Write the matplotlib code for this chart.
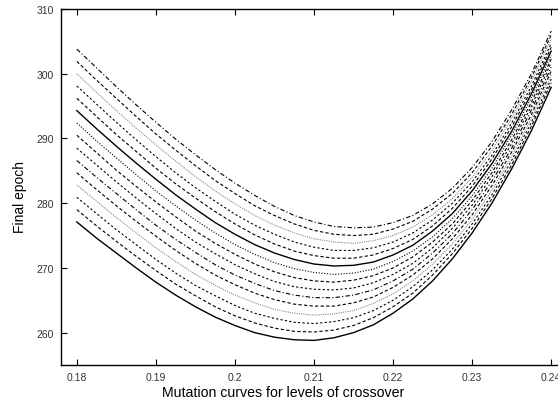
import matplotlib
matplotlib.use("Agg")
import matplotlib.pyplot as plt

plt.rcParams['font.family'] = ['Liberation Sans', 'DejaVu Sans']

mutation = [0.1800, 0.1825, 0.1850, 0.1875, 0.1900, 0.1925, 0.1950, 0.1975,
            0.2000, 0.2025, 0.2050, 0.2075, 0.2100, 0.2125, 0.2150, 0.2175,
            0.2200, 0.2225, 0.2250, 0.2275, 0.2300, 0.2325, 0.2350, 0.2375,
            0.2400]

# Final epoch per crossover level (bottom curve first)
c00 = [277.1, 274.6, 272.3, 270.0, 267.8, 265.8, 264.0, 262.4, 261.1, 260.0, 259.3, 258.9, 258.8,
       259.2, 260.0, 261.2, 263.0, 265.2, 268.0, 271.4, 275.4, 280.0, 285.3, 291.2, 297.9]
c01 = [279.0, 276.5, 274.1, 271.8, 269.6, 267.5, 265.7, 264.0, 262.6, 261.5, 260.7, 260.2, 260.1,
       260.4, 261.1, 262.3, 264.0, 266.1, 268.9, 272.2, 276.1, 280.7, 285.9, 291.9, 298.6]
c02 = [280.9, 278.4, 275.9, 273.6, 271.3, 269.2, 267.3, 265.7, 264.2, 263.0, 262.2, 261.6, 261.4,
       261.7, 262.3, 263.4, 265.0, 267.1, 269.7, 272.9, 276.8, 281.3, 286.6, 292.5, 299.2]
c03 = [282.8, 280.3, 277.8, 275.4, 273.1, 271.0, 269.0, 267.3, 265.8, 264.6, 263.6, 263.0, 262.7,
       262.9, 263.4, 264.5, 266.0, 268.0, 270.6, 273.7, 277.5, 282.0, 287.2, 293.1, 299.8]
c04 = [284.7, 282.1, 279.6, 277.2, 274.9, 272.7, 270.7, 268.9, 267.4, 266.1, 265.1, 264.4, 264.1,
       264.1, 264.6, 265.5, 267.0, 268.9, 271.4, 274.5, 278.2, 282.7, 287.9, 293.7, 300.4]
c05 = [286.6, 284.0, 281.5, 279.0, 276.6, 274.4, 272.4, 270.5, 268.9, 267.6, 266.5, 265.8, 265.4,
       265.4, 265.8, 266.6, 268.0, 269.8, 272.3, 275.3, 279.0, 283.4, 288.5, 294.4, 301.0]
c06 = [288.5, 285.9, 283.3, 280.8, 278.4, 276.1, 274.0, 272.2, 270.5, 269.1, 267.9, 267.1, 266.7,
       266.6, 266.9, 267.7, 269.0, 270.7, 273.1, 276.1, 279.7, 284.1, 289.2, 295.0, 301.7]
c07 = [290.5, 287.8, 285.1, 282.6, 280.2, 277.9, 275.7, 273.8, 272.1, 270.6, 269.4, 268.5, 268.0,
       267.8, 268.1, 268.8, 270.0, 271.7, 274.0, 276.8, 280.4, 284.7, 289.8, 295.6, 302.3]
c08 = [292.4, 289.6, 287.0, 284.4, 281.9, 279.6, 277.4, 275.4, 273.6, 272.1, 270.8, 269.9, 269.3,
       269.0, 269.2, 269.8, 271.0, 272.6, 274.8, 277.6, 281.1, 285.4, 290.5, 296.3, 302.9]
c09 = [294.3, 291.5, 288.8, 286.2, 283.7, 281.3, 279.1, 277.0, 275.2, 273.6, 272.3, 271.3, 270.6,
       270.3, 270.4, 270.9, 272.0, 273.5, 275.7, 278.4, 281.9, 286.1, 291.1, 296.9, 303.5]
c10 = [296.2, 293.4, 290.6, 288.0, 285.4, 283.0, 280.8, 278.7, 276.8, 275.1, 273.7, 272.6, 271.9,
       271.5, 271.5, 272.0, 273.0, 274.4, 276.5, 279.2, 282.6, 286.8, 291.8, 297.5, 304.1]
c11 = [298.1, 295.3, 292.5, 289.8, 287.2, 284.7, 282.4, 280.3, 278.3, 276.6, 275.2, 274.0, 273.2,
       272.7, 272.7, 273.1, 274.0, 275.4, 277.4, 280.0, 283.3, 287.4, 292.4, 298.1, 304.7]
c12 = [300.0, 297.1, 294.3, 291.6, 289.0, 286.5, 284.1, 281.9, 279.9, 278.1, 276.6, 275.4, 274.5,
       274.0, 273.8, 274.2, 275.0, 276.3, 278.2, 280.7, 284.0, 288.1, 293.1, 298.8, 305.4]
c13 = [301.9, 299.0, 296.2, 293.4, 290.7, 288.2, 285.8, 283.5, 281.5, 279.6, 278.1, 276.8, 275.8,
       275.2, 275.0, 275.2, 276.0, 277.2, 279.1, 281.5, 284.7, 288.8, 293.7, 299.4, 306.0]
c14 = [303.8, 300.9, 298.0, 295.2, 292.5, 289.9, 287.5, 285.2, 283.1, 281.2, 279.5, 278.1, 277.1,
       276.4, 276.2, 276.3, 277.0, 278.1, 279.9, 282.3, 285.5, 289.5, 294.4, 300.0, 306.6]
curves = [c00, c01, c02, c03, c04, c05, c06, c07, c08, c09, c10, c11, c12, c13, c14]

x_ticks = [0.18, 0.19, 0.20, 0.21, 0.22, 0.23, 0.24]
x_tick_labels = ['0.18', '0.19', '0.2', '0.21', '0.22', '0.23', '0.24']
y_ticks = [260, 270, 280, 290, 300, 310]

styles = [
    dict(color='black', ls='-', lw=1.0),
    dict(color='black', ls=(0, (3, 2)), lw=0.8),
    dict(color='black', ls=(0, (2, 2)), lw=0.8),
    dict(color='#888888', ls=(0, (1, 1)), lw=0.8),
    dict(color='black', ls=(0, (3, 2)), lw=0.8),
    dict(color='black', ls=(0, (4, 2, 1, 2)), lw=0.8),
    dict(color='black', ls=(0, (2, 2)), lw=0.8),
    dict(color='black', ls=(0, (3, 2)), lw=0.8),
    dict(color='black', ls=(0, (1, 1.5)), lw=0.8),
]

W, H = 558, 406
fig = plt.figure(figsize=(W / 100, H / 100), dpi=100)
ax = fig.add_axes([61 / W, 40 / H, 506 / W, 356 / H])

for i, c in enumerate(curves):
    ax.plot(mutation, c, **styles[i % len(styles)])

ax.set_xlim(0.178, 0.242)
ax.set_ylim(255, 310)
ax.set_xticks(x_ticks)
ax.set_xticklabels(x_tick_labels)
ax.set_yticks(y_ticks)
ax.tick_params(direction='in', top=True, right=True, length=4, width=0.8,
               labelsize=7.5, labelcolor='#333333', pad=5)
for s in ax.spines.values():
    s.set_linewidth(1.0)

fig.text(283 / W, 1 - 393 / H, 'Mutation curves for levels of crossover',
         ha='center', va='center', fontsize=10.2)
fig.text(20 / W, 1 - 197 / H, 'Final epoch', ha='center', va='center',
         rotation=90, fontsize=10)

fig.savefig('out.png', dpi=100)
